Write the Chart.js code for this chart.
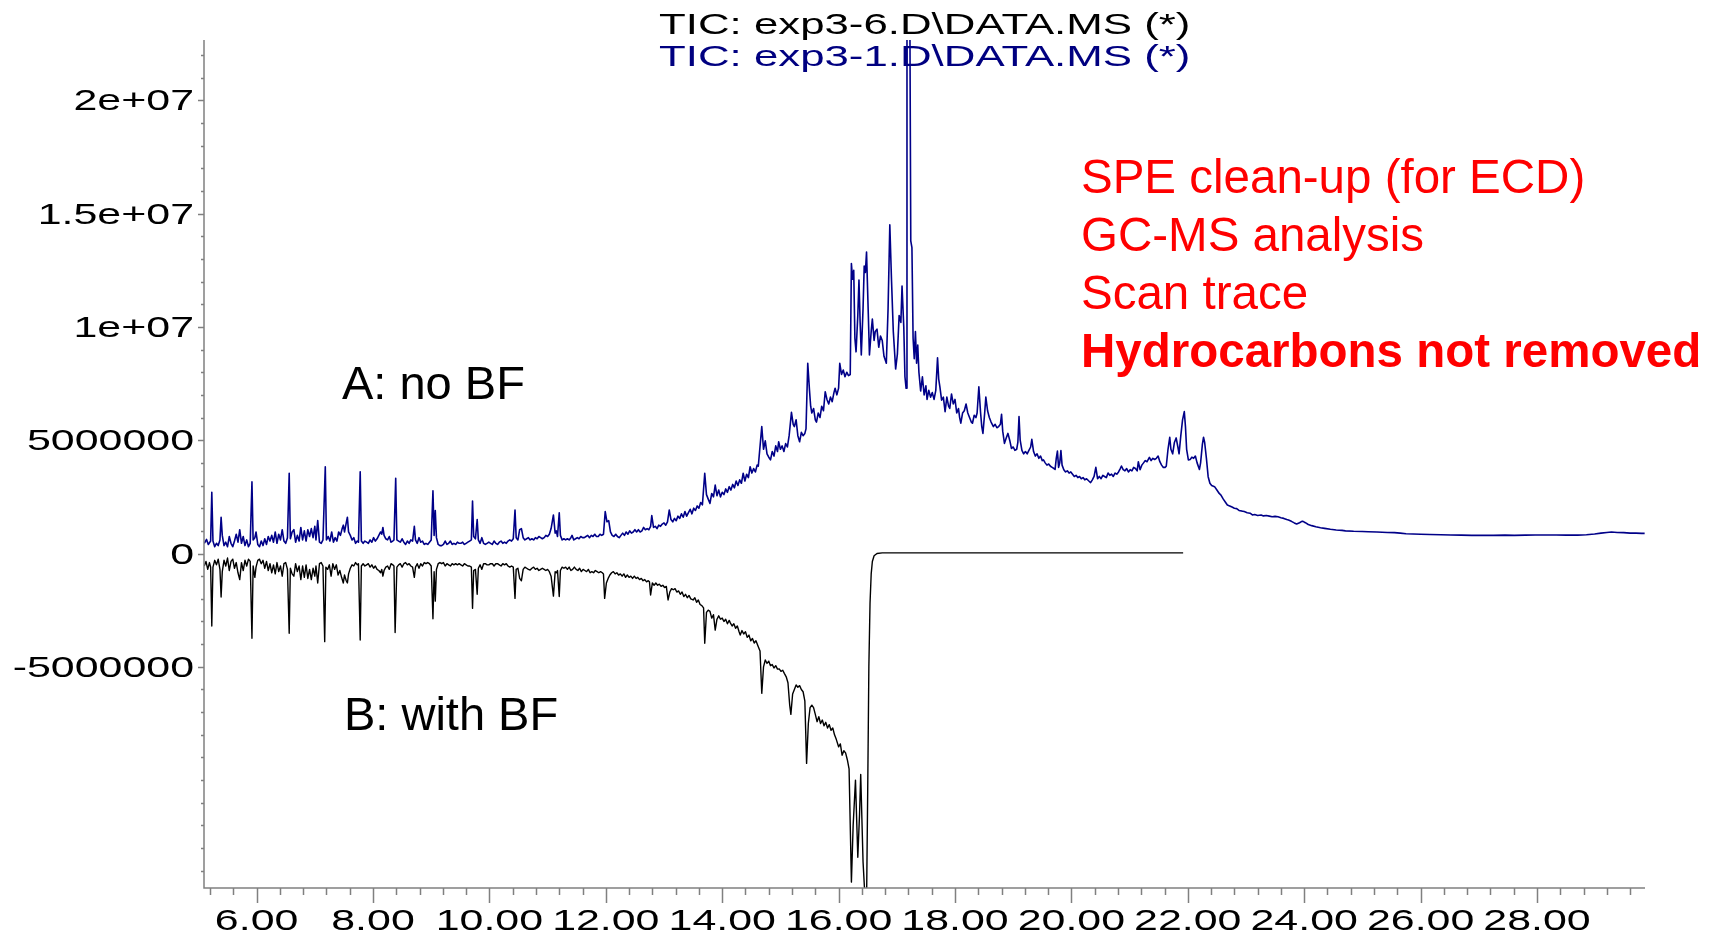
<!DOCTYPE html>
<html>
<head>
<meta charset="utf-8">
<script src="https://cdn.jsdelivr.net/npm/chart.js@4.4.1/dist/chart.umd.min.js"></script>
<style>
  html, body { margin: 0; padding: 0; background: #fff; }
  #wrap { width: 1712px; height: 935px; position: relative; }
</style>
</head>
<body>
<div id="wrap"><canvas id="myChart"></canvas></div>
<script>
// setup - values, y in millions of counts, x in minutes
const xTickValues = [6, 8, 10, 12, 14, 16, 18, 20, 22, 24, 26, 28];
const xTickLabels = ['6.00', '8.00', '10.00', '12.00', '14.00', '16.00', '18.00', '20.00', '22.00', '24.00', '26.00', '28.00'];
const yTickValues = [-5, 0, 5, 10, 15, 20];
const yTickLabels = ['-5000000', '0', '5000000', '1e+07', '1.5e+07', '2e+07'];
const traceTitles = ['TIC: exp3-6.D\\DATA.MS (*)', 'TIC: exp3-1.D\\DATA.MS (*)'];
const traceNames = ['A: no BF', 'B: with BF'];
const noteLines = ['SPE clean-up (for ECD)', 'GC-MS analysis', 'Scan trace', 'Hydrocarbons not removed'];

// A: exp3-1 (no BF), drawn upwards
const traceA = [
  [5.10,0.45],[5.14,0.62],[5.17,0.40],[5.21,0.55],[5.23,2.70],[5.25,0.55],[5.28,0.30],[5.31,0.45],[5.34,0.35],[5.37,0.60],
  [5.39,1.60],[5.41,0.80],[5.44,0.35],[5.47,0.50],[5.50,0.30],[5.53,0.75],[5.56,0.45],[5.59,0.30],[5.62,0.55],[5.65,0.85],
  [5.68,0.50],[5.71,1.05],[5.74,0.45],[5.77,0.75],[5.80,0.35],[5.83,0.60],[5.86,0.30],[5.89,0.45],[5.92,3.16],[5.94,0.60],
  [5.97,0.70],[5.99,0.95],[6.02,0.40],[6.05,0.30],[6.08,0.55],[6.11,0.35],[6.14,0.65],[6.17,0.40],[6.20,0.75],[6.23,0.55],
  [6.26,0.80],[6.29,0.50],[6.32,0.95],[6.35,0.45],[6.38,0.85],[6.41,0.60],[6.44,1.05],[6.47,0.55],[6.50,0.45],[6.53,0.70],
  [6.56,3.54],[6.58,0.65],[6.61,0.95],[6.64,1.05],[6.67,0.50],[6.70,0.80],[6.73,0.55],[6.76,1.15],[6.79,0.60],[6.82,1.00],
  [6.85,0.55],[6.88,1.05],[6.91,0.75],[6.94,1.10],[6.97,0.70],[7.00,1.20],[7.02,0.60],[7.05,1.45],[7.08,0.50],[7.11,0.45],
  [7.14,0.60],[7.18,3.83],[7.20,0.60],[7.23,0.75],[7.26,0.55],[7.29,0.95],[7.32,0.50],[7.35,0.70],[7.38,0.55],[7.41,0.95],
  [7.44,0.80],[7.47,1.10],[7.49,1.25],[7.51,0.95],[7.54,1.35],[7.56,1.60],[7.58,0.95],[7.61,0.80],[7.64,0.60],[7.67,0.70],
  [7.70,0.45],[7.73,0.55],[7.75,0.50],[7.78,3.61],[7.80,0.55],[7.83,0.45],[7.86,0.55],[7.89,0.50],[7.92,0.45],[7.95,0.60],
  [7.98,0.50],[8.01,0.70],[8.04,0.55],[8.07,0.65],[8.10,0.80],[8.13,0.95],[8.15,0.85],[8.17,1.15],[8.19,0.80],[8.22,0.65],
  [8.25,0.60],[8.28,0.75],[8.31,0.50],[8.34,0.55],[8.36,0.60],[8.39,3.32],[8.41,0.60],[8.44,0.55],[8.47,0.50],[8.50,0.65],
  [8.53,0.50],[8.56,0.40],[8.59,0.55],[8.62,0.45],[8.65,0.60],[8.68,0.55],[8.71,1.20],[8.73,0.60],[8.76,0.45],[8.79,0.70],
  [8.82,0.50],[8.85,0.55],[8.88,0.40],[8.91,0.45],[8.94,0.40],[8.97,0.50],[9.00,0.60],[9.03,2.77],[9.05,0.80],[9.07,1.90],
  [9.09,0.70],[9.12,0.40],[9.15,0.35],[9.18,0.35],[9.21,0.40],[9.24,0.55],[9.27,0.40],[9.30,0.45],[9.33,0.55],[9.36,0.40],
  [9.39,0.45],[9.42,0.40],[9.45,0.50],[9.48,0.45],[9.51,0.45],[9.54,0.50],[9.57,0.40],[9.60,0.45],[9.63,0.50],[9.66,0.55],
  [9.69,0.60],[9.71,2.32],[9.73,0.75],[9.76,0.65],[9.79,1.50],[9.81,0.60],[9.84,0.45],[9.87,0.70],[9.90,0.45],[9.93,0.40],
  [9.96,0.45],[9.99,0.50],[10.02,0.45],[10.05,0.40],[10.08,0.55],[10.11,0.45],[10.14,0.40],[10.17,0.50],[10.20,0.55],[10.23,0.45],
  [10.26,0.50],[10.29,0.45],[10.32,0.55],[10.35,0.60],[10.38,0.55],[10.41,0.65],[10.44,1.92],[10.46,0.70],[10.49,0.60],[10.52,1.05],
  [10.55,1.10],[10.58,0.70],[10.61,0.60],[10.64,0.65],[10.67,0.70],[10.70,0.60],[10.73,0.65],[10.76,0.60],[10.79,0.70],[10.82,0.65],
  [10.85,0.75],[10.88,0.70],[10.91,0.65],[10.94,0.70],[10.97,0.80],[11.00,0.75],[11.03,0.85],[11.06,1.10],[11.10,1.70],[11.13,0.90],
  [11.15,1.00],[11.17,0.75],[11.20,1.80],[11.22,0.80],[11.25,0.60],[11.28,0.65],[11.31,0.60],[11.34,0.65],[11.37,0.60],[11.40,0.70],
  [11.42,0.80],[11.45,0.60],[11.48,0.65],[11.51,0.70],[11.54,0.65],[11.57,0.75],[11.60,0.70],[11.63,0.70],[11.66,0.75],[11.69,0.80],
  [11.72,0.70],[11.75,0.80],[11.78,0.75],[11.81,0.85],[11.84,0.75],[11.87,0.75],[11.90,0.85],[11.93,0.80],[11.96,0.85],[11.99,1.85],
  [12.02,1.40],[12.05,1.45],[12.08,0.95],[12.11,0.80],[12.14,0.75],[12.17,0.85],[12.20,0.75],[12.23,0.70],[12.26,0.80],[12.29,0.90],
  [12.32,0.80],[12.35,0.95],[12.38,0.85],[12.41,1.00],[12.44,0.90],[12.47,0.95],[12.50,1.05],[12.53,0.95],[12.56,1.05],[12.59,0.95],
  [12.62,1.00],[12.65,1.15],[12.68,1.05],[12.71,1.10],[12.74,1.05],[12.77,1.20],[12.79,1.67],[12.82,1.15],[12.85,1.20],[12.88,1.10],
  [12.91,1.25],[12.94,1.20],[12.97,1.30],[13.00,1.35],[13.03,1.25],[13.06,1.40],[13.09,1.92],[13.12,1.50],[13.15,1.40],[13.18,1.55],
  [13.21,1.45],[13.24,1.65],[13.27,1.55],[13.30,1.75],[13.33,1.60],[13.36,1.85],[13.39,1.65],[13.42,1.80],[13.45,1.95],[13.48,1.75],
  [13.51,2.00],[13.54,1.90],[13.57,2.10],[13.60,2.00],[13.63,2.25],[13.66,2.15],[13.70,3.54],[13.73,2.60],[13.76,2.40],[13.79,2.21],
  [13.82,2.65],[13.85,2.50],[13.88,3.02],[13.91,2.55],[13.94,2.80],[13.97,2.50],[14.00,2.70],[14.03,2.60],[14.06,2.85],[14.09,2.70],
  [14.12,2.95],[14.15,2.80],[14.18,3.05],[14.21,2.90],[14.24,3.20],[14.27,3.00],[14.30,3.25],[14.33,3.10],[14.36,3.54],[14.39,3.20],
  [14.42,3.50],[14.45,3.35],[14.48,3.83],[14.51,3.55],[14.54,3.75],[14.57,3.60],[14.60,3.90],[14.62,3.85],[14.68,5.60],[14.71,4.60],
  [14.74,4.97],[14.77,4.40],[14.80,4.25],[14.83,4.13],[14.86,4.50],[14.89,4.30],[14.92,4.75],[14.95,4.50],[14.97,4.93],[15.00,4.60],
  [15.03,4.75],[15.06,4.50],[15.09,4.85],[15.12,4.70],[15.15,5.20],[15.19,6.23],[15.22,5.70],[15.24,5.60],[15.27,5.90],[15.30,5.20],
  [15.33,4.93],[15.36,5.35],[15.39,5.20],[15.42,5.30],[15.44,5.50],[15.47,8.39],[15.50,7.20],[15.52,6.50],[15.54,6.20],[15.57,6.40],
  [15.60,5.90],[15.62,5.80],[15.65,6.20],[15.68,6.00],[15.71,6.50],[15.74,6.30],[15.77,7.14],[15.80,6.80],[15.83,6.60],[15.86,6.90],
  [15.89,6.70],[15.92,7.10],[15.94,7.29],[15.97,7.00],[16.00,7.30],[16.02,8.39],[16.05,7.90],[16.08,8.10],[16.11,7.80],[16.14,8.00],
  [16.17,7.85],[16.20,7.90],[16.22,12.80],[16.24,12.10],[16.26,12.50],[16.28,9.50],[16.30,8.90],[16.33,10.50],[16.35,12.07],[16.37,10.20],
  [16.39,8.76],[16.42,10.80],[16.44,12.69],[16.46,12.40],[16.48,13.30],[16.51,10.60],[16.53,8.76],[16.56,9.80],[16.58,10.35],[16.61,9.40],
  [16.63,9.80],[16.66,9.90],[16.69,9.10],[16.72,9.60],[16.75,9.40],[16.78,8.70],[16.82,8.40],[16.85,10.80],[16.88,14.50],[16.91,12.00],
  [16.94,9.80],[16.98,8.14],[17.01,8.80],[17.04,10.50],[17.07,10.20],[17.09,11.80],[17.12,10.00],[17.14,7.80],[17.16,7.29],[17.175,23.5],
  [17.225,23.5],[17.24,13.80],[17.26,13.50],[17.28,9.50],[17.30,8.60],[17.32,9.80],[17.34,8.40],[17.36,9.20],[17.38,8.00],[17.41,7.17],
  [17.44,7.80],[17.47,7.00],[17.50,7.40],[17.52,6.80],[17.55,7.20],[17.58,6.90],[17.61,7.10],[17.64,6.80],[17.67,7.20],[17.70,8.64],
  [17.72,7.70],[17.74,7.36],[17.77,6.77],[17.80,6.90],[17.83,6.26],[17.86,6.90],[17.89,6.50],[17.91,6.40],[17.94,7.04],[17.97,6.60],
  [18.00,6.80],[18.03,6.20],[18.06,6.40],[18.08,6.00],[18.10,5.75],[18.13,6.20],[18.16,6.30],[18.19,6.60],[18.22,6.20],[18.25,6.00],
  [18.28,5.80],[18.30,5.75],[18.33,6.10],[18.36,6.00],[18.38,6.20],[18.41,7.36],[18.44,6.20],[18.46,5.60],[18.48,5.30],[18.51,6.20],
  [18.53,6.90],[18.56,6.30],[18.59,6.00],[18.62,5.80],[18.66,5.60],[18.69,5.70],[18.72,5.55],[18.75,5.60],[18.78,5.70],[18.80,6.14],
  [18.82,5.40],[18.85,4.86],[18.88,5.10],[18.91,5.30],[18.94,5.00],[18.97,4.64],[19.00,4.70],[19.03,4.55],[19.06,4.60],[19.08,4.90],
  [19.10,6.04],[19.12,5.00],[19.15,4.55],[19.18,4.40],[19.21,4.50],[19.24,4.40],[19.27,4.55],[19.30,4.70],[19.32,5.04],[19.35,4.50],
  [19.38,4.30],[19.41,4.40],[19.44,4.20],[19.47,4.30],[19.50,4.10],[19.52,4.13],[19.55,4.00],[19.58,3.90],[19.61,3.95],[19.64,3.85],
  [19.67,3.80],[19.70,3.75],[19.72,3.71],[19.74,4.20],[19.76,4.52],[19.78,3.80],[19.80,4.00],[19.82,4.54],[19.84,3.90],[19.87,3.70],
  [19.90,3.60],[19.93,3.65],[19.96,3.55],[19.99,3.60],[20.02,3.50],[20.05,3.40],[20.08,3.45],[20.11,3.35],[20.14,3.40],[20.17,3.30],
  [20.20,3.35],[20.23,3.25],[20.26,3.30],[20.30,3.20],[20.33,3.13],[20.36,3.25],[20.39,3.40],[20.42,3.80],[20.45,3.30],[20.48,3.40],
  [20.51,3.30],[20.54,3.45],[20.57,3.40],[20.60,3.35],[20.63,3.55],[20.66,3.45],[20.69,3.50],[20.72,3.40],[20.75,3.55],[20.78,3.50],
  [20.81,3.60],[20.84,3.75],[20.86,3.86],[20.89,3.70],[20.92,3.65],[20.95,3.75],[20.98,3.60],[21.01,3.70],[21.04,3.65],[21.07,3.80],
  [21.10,3.75],[21.13,3.65],[21.15,4.05],[21.18,3.70],[21.21,3.90],[21.24,4.00],[21.27,4.10],[21.30,4.05],[21.34,4.24],[21.37,4.10],
  [21.40,4.20],[21.43,4.15],[21.46,4.20],[21.49,4.30],[21.52,4.05],[21.55,3.90],[21.58,3.80],[21.61,3.80],[21.63,3.85],[21.66,4.60],
  [21.69,5.13],[21.71,4.60],[21.74,4.40],[21.77,4.90],[21.80,5.10],[21.83,4.70],[21.85,4.40],[21.88,5.20],[21.91,5.90],[21.94,6.26],
  [21.96,5.60],[21.98,4.60],[22.01,4.13],[22.04,4.15],[22.07,4.25],[22.10,4.20],[22.13,4.30],[22.16,4.00],[22.20,3.71],[22.22,4.00],
  [22.25,4.80],[22.27,5.13],[22.29,4.90],[22.32,4.20],[22.35,3.39],[22.38,3.10],[22.41,3.00],[22.46,2.95],[22.50,2.80],[22.54,2.65],
  [22.57,2.58],[22.61,2.40],[22.65,2.25],[22.68,2.14],[22.72,2.10],[22.76,2.05],[22.80,2.00],[22.84,1.98],[22.88,1.90],[22.92,1.88],
  [22.97,1.85],[23.02,1.80],[23.07,1.78],[23.11,1.70],[23.15,1.72],[23.20,1.68],[23.26,1.70],[23.30,1.66],[23.35,1.68],[23.40,1.65],
  [23.45,1.62],[23.50,1.64],[23.55,1.62],[23.60,1.58],[23.65,1.55],[23.70,1.50],[23.73,1.48],[23.78,1.42],[23.83,1.35],[23.87,1.30],
  [23.92,1.36],[23.96,1.42],[23.98,1.42],[24.02,1.36],[24.07,1.28],[24.13,1.23],[24.20,1.18],[24.28,1.14],[24.35,1.11],[24.45,1.07],
  [24.55,1.04],[24.65,1.02],[24.71,1.00],[24.85,0.98],[25.00,0.97],[25.10,0.96],[25.25,0.95],[25.43,0.93],[25.55,0.92],[25.65,0.90],
  [25.75,0.87],[25.87,0.86],[26.00,0.85],[26.16,0.84],[26.35,0.83],[26.52,0.82],[26.70,0.81],[26.88,0.80],[27.05,0.80],[27.25,0.80],
  [27.45,0.81],[27.61,0.80],[27.80,0.81],[27.97,0.82],[28.15,0.82],[28.33,0.82],[28.50,0.81],[28.70,0.81],[28.85,0.83],[28.99,0.86],
  [29.10,0.90],[29.20,0.93],[29.28,0.95],[29.38,0.93],[29.49,0.92],[29.60,0.90],[29.70,0.90],[29.80,0.89],[29.85,0.89]
];

// B: exp3-6 (with BF), drawn downwards (mirrored)
const traceB = [
  [5.10,-0.55],[5.13,-0.35],[5.16,-0.70],[5.19,-0.40],[5.21,-0.60],[5.23,-3.20],[5.25,-0.60],[5.28,-0.30],[5.31,-0.50],[5.34,-0.25],
  [5.37,-0.70],[5.39,-1.92],[5.41,-0.80],[5.44,-0.30],[5.47,-0.55],[5.50,-0.20],[5.53,-0.75],[5.56,-0.35],[5.59,-0.25],[5.62,-0.65],
  [5.65,-0.40],[5.68,-0.85],[5.71,-1.15],[5.74,-0.40],[5.77,-0.75],[5.80,-0.30],[5.83,-0.55],[5.86,-0.25],[5.89,-0.35],[5.92,-3.74],
  [5.94,-0.55],[5.97,-1.05],[5.99,-0.60],[6.02,-0.30],[6.05,-0.25],[6.08,-0.45],[6.11,-0.30],[6.14,-0.65],[6.17,-0.35],[6.20,-0.75],
  [6.23,-0.45],[6.26,-0.85],[6.29,-0.50],[6.32,-0.90],[6.35,-0.40],[6.38,-0.80],[6.41,-0.55],[6.44,-1.00],[6.47,-0.45],[6.50,-0.40],
  [6.53,-0.70],[6.56,-3.52],[6.58,-0.65],[6.61,-0.90],[6.64,-1.00],[6.67,-0.45],[6.70,-0.80],[6.73,-0.55],[6.76,-1.15],[6.79,-0.55],
  [6.82,-1.05],[6.85,-0.50],[6.88,-1.10],[6.91,-0.70],[6.94,-1.15],[6.97,-0.65],[7.00,-1.00],[7.02,-0.55],[7.05,-1.30],[7.08,-0.45],
  [7.11,-0.40],[7.14,-0.55],[7.17,-3.89],[7.19,-0.60],[7.22,-0.70],[7.25,-0.50],[7.28,-1.00],[7.31,-0.45],[7.34,-0.70],[7.37,-0.50],
  [7.40,-0.95],[7.43,-0.75],[7.46,-1.05],[7.49,-1.30],[7.51,-0.95],[7.54,-1.20],[7.56,-1.30],[7.58,-0.90],[7.61,-0.65],[7.64,-0.50],
  [7.67,-0.55],[7.70,-0.40],[7.73,-0.50],[7.75,-0.45],[7.78,-3.82],[7.80,-0.55],[7.83,-0.45],[7.86,-0.55],[7.89,-0.50],[7.92,-0.45],
  [7.95,-0.60],[7.98,-0.50],[8.01,-0.65],[8.04,-0.55],[8.07,-0.70],[8.10,-0.75],[8.13,-0.85],[8.15,-0.70],[8.17,-1.00],[8.19,-0.75],
  [8.22,-0.60],[8.25,-0.55],[8.28,-0.70],[8.31,-0.45],[8.34,-0.50],[8.36,-0.55],[8.38,-3.49],[8.41,-0.60],[8.44,-0.50],[8.47,-0.45],
  [8.50,-0.60],[8.53,-0.45],[8.56,-0.40],[8.59,-0.50],[8.62,-0.45],[8.65,-0.55],[8.68,-0.60],[8.71,-1.05],[8.73,-0.60],[8.76,-0.45],
  [8.79,-0.65],[8.82,-0.45],[8.85,-0.55],[8.88,-0.40],[8.91,-0.45],[8.94,-0.40],[8.97,-0.45],[9.00,-0.55],[9.03,-2.88],[9.05,-0.80],
  [9.07,-2.10],[9.09,-0.70],[9.12,-0.45],[9.15,-0.40],[9.18,-0.45],[9.21,-0.40],[9.24,-0.55],[9.27,-0.45],[9.30,-0.50],[9.33,-0.55],
  [9.36,-0.45],[9.39,-0.50],[9.42,-0.45],[9.45,-0.50],[9.48,-0.45],[9.51,-0.50],[9.54,-0.55],[9.57,-0.45],[9.60,-0.50],[9.63,-0.55],
  [9.66,-0.55],[9.69,-0.60],[9.71,-2.42],[9.73,-0.75],[9.76,-0.70],[9.79,-1.80],[9.81,-0.65],[9.84,-0.50],[9.87,-0.70],[9.90,-0.45],
  [9.93,-0.45],[9.96,-0.50],[9.99,-0.50],[10.02,-0.45],[10.05,-0.45],[10.08,-0.55],[10.11,-0.45],[10.14,-0.45],[10.17,-0.50],[10.20,-0.55],
  [10.23,-0.45],[10.26,-0.50],[10.29,-0.45],[10.32,-0.55],[10.35,-0.60],[10.38,-0.55],[10.41,-0.60],[10.44,-1.98],[10.46,-0.70],[10.49,-0.65],
  [10.52,-1.10],[10.55,-1.20],[10.58,-0.70],[10.61,-0.60],[10.64,-0.65],[10.67,-0.70],[10.70,-0.73],[10.73,-0.65],[10.76,-0.60],[10.79,-0.70],
  [10.82,-0.65],[10.85,-0.75],[10.88,-0.70],[10.91,-0.65],[10.94,-0.70],[10.97,-0.75],[11.00,-0.70],[11.03,-0.80],[11.06,-1.00],[11.10,-1.88],
  [11.13,-0.80],[11.15,-0.85],[11.17,-0.75],[11.20,-1.90],[11.22,-0.75],[11.25,-0.60],[11.28,-0.65],[11.31,-0.60],[11.34,-0.70],[11.37,-0.60],
  [11.40,-0.75],[11.43,-0.70],[11.46,-0.60],[11.49,-0.70],[11.52,-0.75],[11.55,-0.65],[11.58,-0.80],[11.61,-0.70],[11.64,-0.75],[11.67,-0.80],
  [11.70,-0.70],[11.73,-0.85],[11.76,-0.80],[11.79,-0.85],[11.82,-0.75],[11.85,-0.80],[11.88,-0.85],[11.91,-0.80],[11.94,-0.85],[11.96,-0.90],
  [11.98,-1.98],[12.01,-1.30],[12.04,-1.10],[12.07,-0.95],[12.10,-0.85],[12.13,-0.80],[12.16,-0.90],[12.19,-0.85],[12.22,-0.95],[12.25,-0.90],
  [12.28,-1.00],[12.31,-0.90],[12.34,-1.05],[12.37,-0.95],[12.40,-1.05],[12.43,-1.00],[12.46,-1.10],[12.49,-1.00],[12.52,-1.10],[12.55,-1.05],
  [12.58,-1.15],[12.61,-1.10],[12.64,-1.20],[12.67,-1.15],[12.70,-1.25],[12.73,-1.20],[12.75,-1.25],[12.77,-1.83],[12.80,-1.30],[12.83,-1.40],
  [12.86,-1.30],[12.89,-1.40],[12.92,-1.35],[12.95,-1.45],[12.98,-1.40],[13.01,-1.50],[13.04,-1.45],[13.07,-2.05],[13.10,-1.70],[13.13,-1.55],
  [13.16,-1.60],[13.19,-1.55],[13.22,-1.70],[13.25,-1.65],[13.28,-1.80],[13.31,-1.70],[13.34,-1.90],[13.37,-1.80],[13.40,-1.95],[13.43,-1.85],
  [13.46,-2.00],[13.50,-2.05],[13.53,-1.95],[13.56,-2.15],[13.59,-2.05],[13.62,-2.25],[13.65,-2.30],[13.68,-2.40],[13.70,-3.96],[13.73,-2.60],
  [13.76,-2.50],[13.79,-2.55],[13.82,-2.85],[13.85,-2.70],[13.88,-3.38],[13.91,-2.90],[13.94,-2.75],[13.97,-2.90],[14.00,-2.85],[14.03,-3.00],
  [14.06,-2.90],[14.09,-3.10],[14.12,-2.95],[14.14,-3.06],[14.17,-3.20],[14.20,-3.10],[14.23,-3.30],[14.26,-3.20],[14.29,-3.45],[14.31,-3.60],
  [14.34,-3.40],[14.37,-3.55],[14.40,-3.45],[14.43,-3.70],[14.46,-3.60],[14.49,-3.85],[14.52,-3.75],[14.55,-3.95],[14.58,-3.85],[14.62,-4.11],
  [14.65,-4.30],[14.68,-6.17],[14.71,-5.00],[14.74,-4.70],[14.77,-4.85],[14.80,-4.75],[14.83,-4.95],[14.86,-4.90],[14.89,-5.05],[14.92,-4.95],
  [14.95,-5.10],[14.98,-5.09],[15.01,-5.20],[15.04,-5.15],[15.07,-5.30],[15.10,-5.44],[15.13,-5.70],[15.16,-6.69],[15.18,-7.10],[15.21,-6.20],
  [15.24,-6.00],[15.27,-5.80],[15.30,-5.90],[15.33,-5.83],[15.36,-6.00],[15.39,-6.10],[15.42,-6.50],[15.45,-9.26],[15.48,-7.50],[15.51,-6.80],
  [15.54,-6.69],[15.57,-6.80],[15.60,-7.10],[15.63,-7.42],[15.66,-7.20],[15.69,-7.50],[15.72,-7.35],[15.75,-7.60],[15.78,-7.45],[15.81,-7.70],
  [15.84,-7.55],[15.87,-7.80],[15.90,-7.70],[15.93,-8.00],[15.96,-8.20],[16.00,-8.53],[16.03,-8.40],[16.06,-8.90],[16.09,-8.70],[16.12,-8.80],
  [16.15,-9.10],[16.18,-9.50],[16.22,-14.50],[16.25,-12.00],[16.29,-10.00],[16.33,-13.40],[16.36,-11.50],[16.38,-9.75],[16.42,-13.60],[16.46,-15.50],
  [16.48,-15.50],[16.50,-10.50],[16.52,-5.00],[16.54,-2.20],[16.56,-0.90],[16.58,-0.35],[16.61,-0.10],[16.66,0.00],[16.75,0.03],[17.50,0.03],
  [18.50,0.03],[19.50,0.03],[20.50,0.03],[21.50,0.03],[21.92,0.03]
];

const fontFamily = "'Liberation Sans', Arial, Helvetica, sans-serif";
const labelStretch = 1.43; // axis text in the original is widened
const headerStretch = 1.46;

function stretchText(ctx, text, x, y, align, sx) {
  ctx.save();
  ctx.translate(x, y);
  ctx.scale(sx, 1);
  ctx.textAlign = align;
  ctx.fillText(text, 0, 0);
  ctx.restore();
}

const chromAxes = {
  id: 'chromAxes',
  beforeDatasetsDraw(chart) {
    const { ctx } = chart;
    ctx.save();
    ctx.textBaseline = 'alphabetic';

    // header lines
    ctx.font = `30px ${fontFamily}`;
    ctx.fillStyle = '#000000';
    stretchText(ctx, traceTitles[0], 659, 33.5, 'left', headerStretch);
    ctx.fillStyle = '#000080';
    stretchText(ctx, traceTitles[1], 659, 66, 'left', headerStretch);

    // trace names
    ctx.fillStyle = '#000000';
    ctx.font = `47px ${fontFamily}`;
    ctx.textAlign = 'left';
    ctx.fillText(traceNames[0], 342, 399);
    ctx.fillText(traceNames[1], 344, 730);

    // red notes
    ctx.fillStyle = '#ff0000';
    noteLines.forEach((line, i) => {
      ctx.font = (i === 3 ? 'bold ' : '') + `47.5px ${fontFamily}`;
      ctx.fillText(line, 1081, 192.5 + i * 58.2);
    });
    ctx.restore();
  },
  afterDatasetsDraw(chart) {
    const { ctx, chartArea: { left, right, top, bottom }, scales: { x, y } } = chart;
    ctx.save();
    ctx.strokeStyle = '#808080';
    ctx.lineWidth = 1.5;

    // axis lines
    ctx.beginPath();
    ctx.moveTo(left, top);
    ctx.lineTo(left, bottom);
    ctx.lineTo(right, bottom);
    ctx.stroke();

    // x ticks, minor every 0.4 min
    ctx.beginPath();
    for (let i = 0; ; i++) {
      const t = 5.2 + i * 0.4;
      if (t > x.max) break;
      const px = Math.round(x.getPixelForValue(t)) + 0.5;
      const major = Math.abs(t / 2 - Math.round(t / 2)) < 0.01;
      ctx.moveTo(px, bottom);
      ctx.lineTo(px, bottom + (major ? 15 : 7));
    }
    // y ticks, minor every 1e6
    for (let v = Math.ceil(y.min); v <= y.max; v++) {
      const py = Math.round(y.getPixelForValue(v)) + 0.5;
      const major = yTickValues.includes(v);
      ctx.moveTo(left, py);
      ctx.lineTo(left - (major ? 6 : 3), py);
    }
    ctx.stroke();

    // tick labels
    ctx.fillStyle = '#000000';
    ctx.font = `30px ${fontFamily}`;
    ctx.textBaseline = 'alphabetic';
    xTickValues.forEach((t, i) => {
      stretchText(ctx, xTickLabels[i], x.getPixelForValue(t), 930, 'center', labelStretch);
    });
    yTickValues.forEach((v, i) => {
      stretchText(ctx, yTickLabels[i], 194, y.getPixelForValue(v) + 10.2, 'right', labelStretch);
    });
    ctx.restore();
  }
};

// config
const config = {
  type: 'line',
  data: {
    datasets: [
      {
        label: 'exp3-1',
        data: traceA,
        borderColor: '#000088',
        borderWidth: 1.6,
        pointRadius: 0,
        tension: 0,
        borderJoinStyle: 'round'
      },
      {
        label: 'exp3-6',
        data: traceB,
        borderColor: '#000000',
        borderWidth: 1.4,
        pointRadius: 0,
        tension: 0,
        borderJoinStyle: 'round'
      }
    ]
  },
  options: {
    responsive: true,
    maintainAspectRatio: false,
    animation: false,
    events: [],
    layout: { padding: { top: 40, right: 67, left: 0, bottom: 0 } },
    plugins: {
      legend: { display: false },
      tooltip: { enabled: false },
      title: { display: false }
    },
    scales: {
      x: {
        type: 'linear',
        min: 5.096,
        max: 29.856,
        grid: { display: false },
        border: { display: false },
        ticks: { display: false },
        afterFit(scale) { scale.height = 47; }
      },
      y: {
        type: 'linear',
        min: -14.76,
        max: 22.66,
        grid: { display: false },
        border: { display: false },
        ticks: { display: false },
        afterFit(scale) { scale.width = 204; }
      }
    }
  },
  plugins: [chromAxes]
};

// render init block
const myChart = new Chart(document.getElementById('myChart'), config);
</script>
</body>
</html>
